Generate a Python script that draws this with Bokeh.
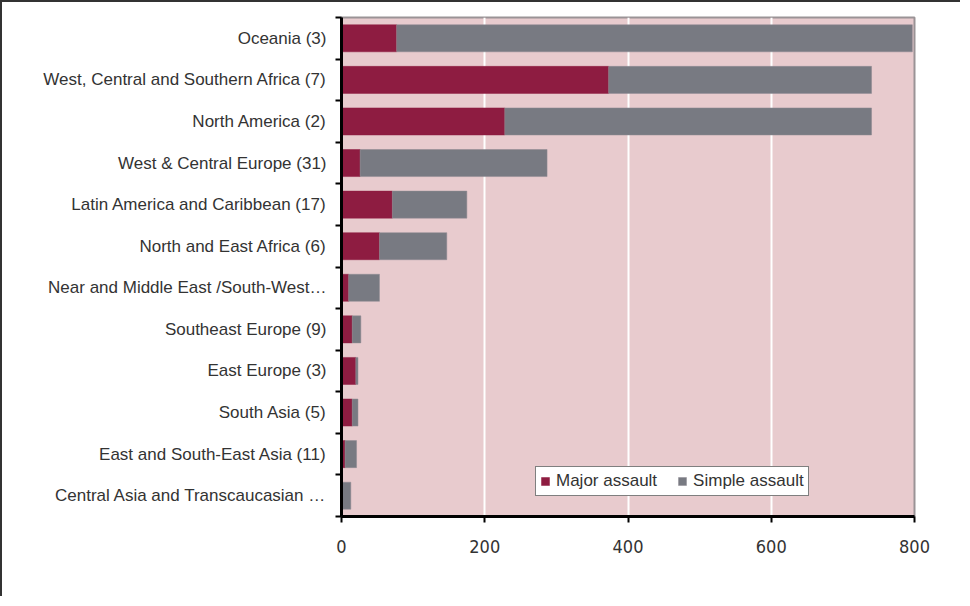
import numpy as np
from bokeh.plotting import figure
from bokeh.models import Range1d, FixedTicker, ColumnDataSource, Legend, LegendItem
from bokeh.embed import file_html
from bokeh.resources import INLINE

regions = [
    "Oceania (3)",
    "West, Central and Southern Africa (7)",
    "North America (2)",
    "West & Central Europe (31)",
    "Latin America and Caribbean (17)",
    "North and East Africa (6)",
    "Near and Middle East /South-West\u2026",
    "Southeast Europe (9)",
    "East Europe (3)",
    "South Asia (5)",
    "East and South-East Asia (11)",
    "Central Asia and Transcaucasian \u2026",
]
major_assault = [77, 373, 228, 26, 71, 53, 10, 15, 20, 15, 5, 0]
simple_assault = [720, 367, 512, 261, 104, 94, 43, 12, 3, 8, 16, 13]
x_ticks = [0, 200, 400, 600, 800]

FONT = "Liberation Sans"
NARROW = "'Liberation Sans Narrow', 'DejaVu Sans Condensed', 'Liberation Sans'"
TXT = "#333333"
MAJ_C = "#8E1C41"
SIM_C = "#787A82"

n = len(regions)
ypos = np.arange(n) + 0.5
major = np.array(major_assault, dtype=float)
simple = np.array(simple_assault, dtype=float)
src = ColumnDataSource(dict(y=ypos, m0=np.zeros(n), m1=major, s1=major + simple))

p = figure(width=960, height=596, output_backend="svg", toolbar_location=None,
           x_range=Range1d(0, 800), y_range=Range1d(n, 0),
           min_border_left=339, min_border_right=48, min_border_top=15, min_border_bottom=82,
           background_fill_color="#E8CBCE", border_fill_color="white",
           outline_line_color="#9A9396", outline_line_width=2)
p.styles = {"border-left": "2px solid #333333", "border-top": "2px solid #333333"}

r1 = p.hbar(y="y", left="m0", right="m1", height=0.65, source=src,
            fill_color=MAJ_C, line_color=MAJ_C, line_width=0.5)
r2 = p.hbar(y="y", left="m1", right="s1", height=0.65, source=src,
            fill_color=SIM_C, line_color="#8F8A92", line_width=0.5)

# grid
p.ygrid.grid_line_color = None
p.xgrid.grid_line_color = "white"
p.xgrid.grid_line_width = 2
p.xgrid.ticker = FixedTicker(ticks=x_ticks)

# x axis
xa = p.xaxis[0]
xa.ticker = FixedTicker(ticks=x_ticks)
xa.axis_line_color = "black"
xa.axis_line_width = 3
xa.major_tick_line_color = "black"
xa.major_tick_line_width = 2
xa.major_tick_out = 6
xa.major_tick_in = 0
xa.minor_tick_line_color = None
xa.major_label_standoff = 17
xa.major_label_text_font = NARROW
xa.major_label_text_font_size = "18px"
xa.major_label_text_color = TXT

# y axis
ya = p.yaxis[0]
ya.ticker = FixedTicker(ticks=list(ypos), minor_ticks=list(np.arange(n + 1)))
ya.major_label_overrides = {float(y): lab for y, lab in zip(ypos, regions)}
ya.axis_line_color = "black"
ya.axis_line_width = 3
ya.major_tick_line_color = None
ya.minor_tick_line_color = "black"
ya.minor_tick_line_width = 2
ya.minor_tick_out = 6
ya.minor_tick_in = 0
ya.major_label_standoff = 9
ya.major_label_text_font = FONT
ya.major_label_text_font_size = "17px"
ya.major_label_text_color = TXT

legend = Legend(items=[LegendItem(label="Major assault", renderers=[r1]),
                       LegendItem(label="Simple assault", renderers=[r2])],
                orientation="horizontal", location=(194, 20))
legend.border_line_color = "black"
legend.border_line_width = 1.5
legend.background_fill_color = "white"
legend.background_fill_alpha = 1
legend.label_text_font = FONT
legend.label_text_font_size = "17px"
legend.label_text_color = TXT
legend.glyph_width = 10
legend.glyph_height = 10
legend.label_standoff = 6
legend.spacing = 20
legend.padding = 4
legend.margin = 0
legend.label_height = 12
p.add_layout(legend, "center")

open("out.html", "w").write(file_html(p, INLINE))
